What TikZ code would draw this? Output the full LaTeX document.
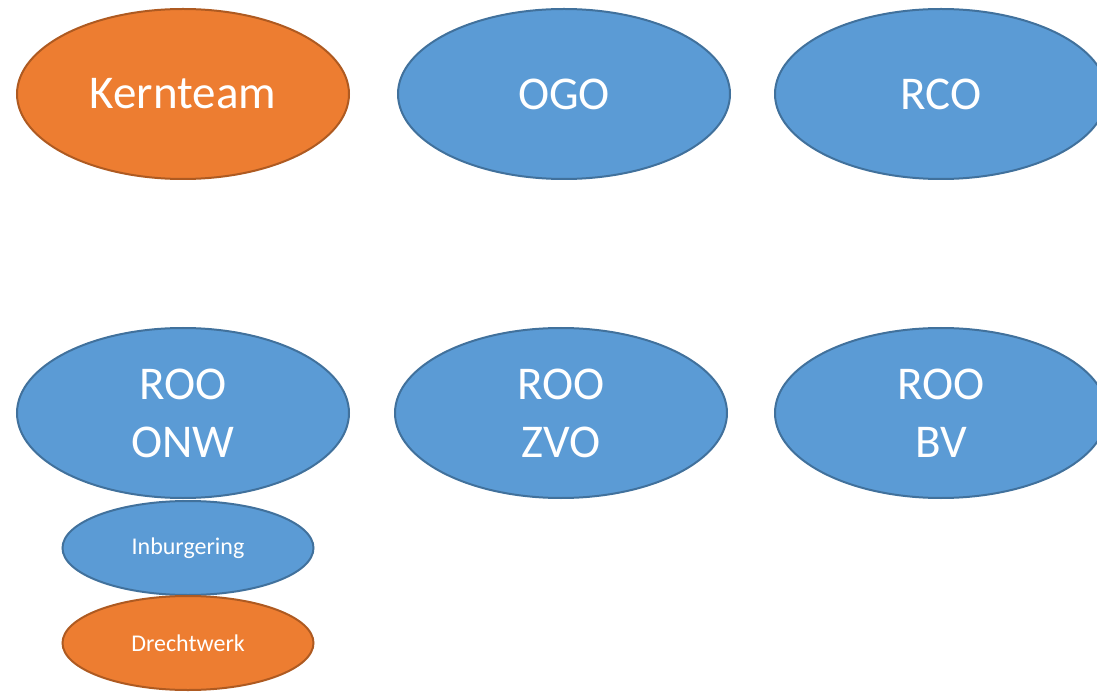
\documentclass[tikz,border=0pt]{standalone}
\usepackage{fontspec}
\setmainfont{Carlito}
\usetikzlibrary{shapes.geometric}
\definecolor{blueF}{HTML}{5B9BD5}
\definecolor{blueD}{HTML}{41719C}
\definecolor{orangeF}{HTML}{ED7D31}
\definecolor{orangeD}{HTML}{AE5A21}
\tikzset{
  oval/.style={ellipse, line width=2pt, inner sep=0pt, text=white, align=center},
  big/.style={oval, minimum width=332pt, minimum height=170pt, font=\fontsize{47}{58}\selectfont},
  small/.style={oval, minimum width=251pt, minimum height=94pt, font=\fontsize{24}{28}\selectfont},
  blueov/.style={fill=blueF, draw=blueD},
  orangeov/.style={fill=orangeF, draw=orangeD}
}
\begin{document}
\begin{tikzpicture}[x=1pt,y=-1pt]
\clip (0,0) rectangle (1097,692);
\useasboundingbox (0,0) rectangle (1097,692);
\node[big, orangeov] (kern) at (183,94) {Kernteam};
\node[big, blueov] (ogo) at (564,94) {OGO};
\node[big, blueov] (rco) at (941,94) {RCO};
\node[big, blueov] (onw) at (183,413) {ROO\\ONW};
\node[big, blueov] (zvo) at (561,413) {ROO\\ZVO};
\node[big, blueov] (bv) at (941,413) {ROO\\BV};
\node[small, blueov] (inb) at (188,548) {Inburgering};
\node[small, orangeov] (drecht) at (188,643) {Drechtwerk};
\end{tikzpicture}
\end{document}
